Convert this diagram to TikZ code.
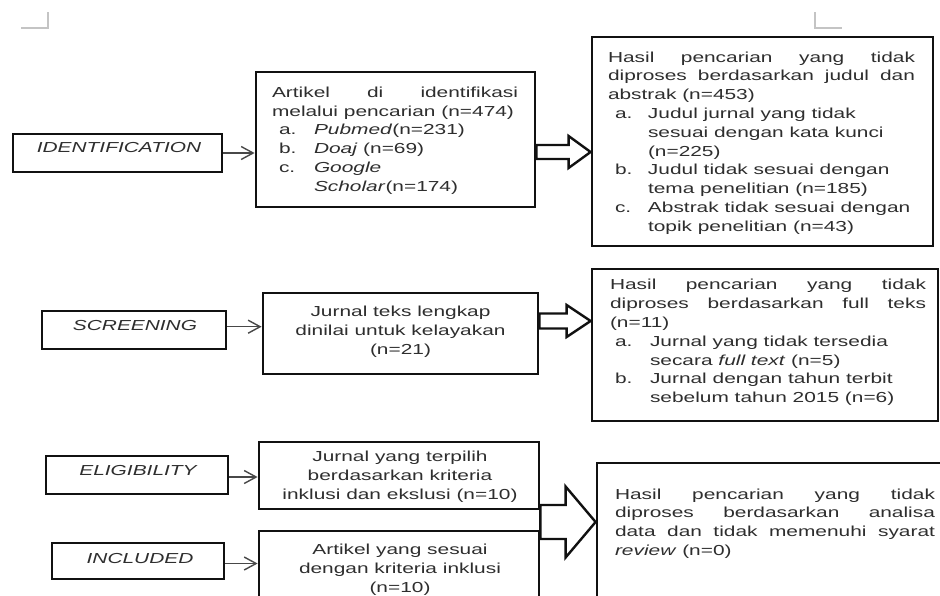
\documentclass[tikz,border=0pt]{standalone}
\usepackage{fontspec}
\setmainfont{Liberation Sans}[FakeStretch=1.44]
\usetikzlibrary{arrows.meta,calc}
\definecolor{txt}{HTML}{2E2E2E}
\definecolor{lin}{HTML}{111111}
\definecolor{arrc}{HTML}{484848}
\definecolor{markc}{HTML}{C4C4C4}
\newlength\itmlab
\newlength\itmind
\newcommand{\itm}[1]{\par\raggedright\hangindent=\itmind\hangafter=1\noindent\hspace*{\itmlab}\makebox[\dimexpr\itmind-\itmlab\relax][l]{#1}\ignorespaces}
\newcommand{\barrow}[5]{%
  \draw[barr] let \p1=(#1), \p2=(#2) in
    (\x1,\y1+#3) -- (\x2-#5,\y1+#3) -- (\x2-#5,\y1+#4) -- (\x2,\y1) --
    (\x2-#5,\y1-#4) -- (\x2-#5,\y1-#3) -- (\x1,\y1-#3) -- cycle;}
\tolerance=10000
\hyphenpenalty=10000
\tikzset{
  box/.style={draw=lin, line width=2.8pt, inner sep=0pt},
  base/.style={text=txt, inner sep=0pt, font=\fontsize{14.5}{18.8}\selectfont},
  lab/.style={base, font=\fontsize{14.5}{18.8}\selectfont\itshape},
  jtext/.style={base, align=justify},
  ctext/.style={base, align=center},
  arr/.style={draw=arrc, line width=1.4pt, -{Straight Barb[length=12pt,width=13pt]}},
  barr/.style={draw=lin, line width=2.4pt, fill=white, line join=miter},
  markl/.style={draw=markc, line width=1.2pt}
}
\begin{document}
\begin{tikzpicture}[x=1pt,y=-1pt]
\clip (0,0) rectangle (940,595);
\fill[white] (0,0) rectangle (940,595);

% corner marks
\draw[markl] (21,28) -- (48,28) -- (48,12);
\draw[markl] (815,12) -- (815,28) -- (842,28);

% boxes
\node[box, minimum width=209pt, minimum height=38pt] (idlab) at (117.5,153) {};
\node[box, minimum width=279pt, minimum height=135pt] (idbox) at (395.5,139.5) {};
\node[box, minimum width=341pt, minimum height=209pt] (rbox1) at (762.5,141.5) {};
\node[box, minimum width=184pt, minimum height=38pt] (sclab) at (134,330) {};
\node[box, minimum width=275pt, minimum height=81pt] (scbox) at (400.5,333.5) {};
\node[box, minimum width=346pt, minimum height=152pt] (rbox2) at (765,345) {};
\node[box, minimum width=182pt, minimum height=38pt] (ellab) at (137,475) {};
\node[box, minimum width=280pt, minimum height=67pt] (elbox) at (399,475.5) {};
\node[box, minimum width=172pt, minimum height=36pt] (inlab) at (138,561) {};
\node[box, minimum width=280pt, minimum height=74pt] (inbox) at (399,568) {};
\node[box, minimum width=345pt, minimum height=177pt] (rbox3) at (769.5,551.5) {};

% label texts
\node[lab] (idlab-t) at (119,148) {IDENTIFICATION};
\node[lab] (sclab-t) at (135,326) {SCREENING};
\node[lab] (ellab-t) at (138,470.5) {ELIGIBILITY};
\node[lab] (inlab-t) at (140,558) {INCLUDED};

% box texts
\node[jtext, text width=246pt] (idbox-t) at (395,140.5) {%
\setlength\itmlab{7pt}\setlength\itmind{42pt}%
Artikel di identifikasi\linebreak melalui pencarian (n=474)
\itm{a.}\textit{Pubmed}(n=231)
\itm{b.}\textit{Doaj} (n=69)
\itm{c.}\textit{Google}\newline\textit{Scholar}(n=174)\par};

\node[jtext, text width=307pt] (rbox1-t) at (761.5,143) {%
\setlength\itmlab{7pt}\setlength\itmind{40pt}%
Hasil pencarian yang tidak\linebreak diproses berdasarkan judul dan\linebreak abstrak (n=453)
\itm{a.}Judul jurnal yang tidak\newline sesuai dengan kata kunci\newline (n=225)
\itm{b.}Judul tidak sesuai dengan\newline tema penelitian (n=185)
\itm{c.}Abstrak tidak sesuai dengan\newline topik penelitian (n=43)\par};

\node[ctext] (scbox-t) at (400.5,332) {Jurnal teks lengkap\\ dinilai untuk kelayakan\\ (n=21)};

\node[jtext, text width=316pt] (rbox2-t) at (768,342.5) {%
\setlength\itmlab{5pt}\setlength\itmind{40pt}%
Hasil pencarian yang tidak\linebreak diproses berdasarkan full teks\linebreak (n=11)
\itm{a.}Jurnal yang tidak tersedia\newline secara \textit{full text} (n=5)
\itm{b.}Jurnal dengan tahun terbit\newline sebelum tahun 2015 (n=6)\par};

\node[ctext] (elbox-t) at (400,477) {Jurnal yang terpilih\\ berdasarkan kriteria\\ inklusi dan ekslusi (n=10)};
\node[ctext] (inbox-t) at (400,569.5) {Artikel yang sesuai\\ dengan kriteria inklusi\\ (n=10)};

\node[jtext, text width=320pt] (rbox3-t) at (775,523.5) {%
Hasil pencarian yang tidak\linebreak diproses berdasarkan analisa\linebreak data dan tidak memenuhi syarat\linebreak \textit{review} (n=0)\par};

% thin arrows
\coordinate (ida) at (idlab.east);
\coordinate (sca) at ([yshift=3.3pt]sclab.east);
\coordinate (ela) at ([yshift=-2pt]ellab.east);
\coordinate (ina) at ([yshift=-2.5pt]inlab.east);
\draw[arr] (ida) -- (ida -| idbox.west);
\draw[arr] (sca) -- (sca -| scbox.west);
\draw[arr] (ela) -- (ela -| elbox.west);
\draw[arr] (ina) -- (ina -| inbox.west);

% block arrows
\coordinate (b1y) at (0,152);
\coordinate (b2y) at (0,321);
\coordinate (b3y) at (0,522);
\coordinate (b1s) at (idbox.east |- b1y);
\coordinate (b2s) at (scbox.east |- b2y);
\coordinate (b3s) at (elbox.east |- b3y);
\barrow{b1s}{rbox1.west}{7pt}{16pt}{22pt}
\barrow{b2s}{rbox2.west}{7.5pt}{16pt}{24pt}
\barrow{b3s}{rbox3.west}{17pt}{35.5pt}{30pt}
\end{tikzpicture}
\end{document}
